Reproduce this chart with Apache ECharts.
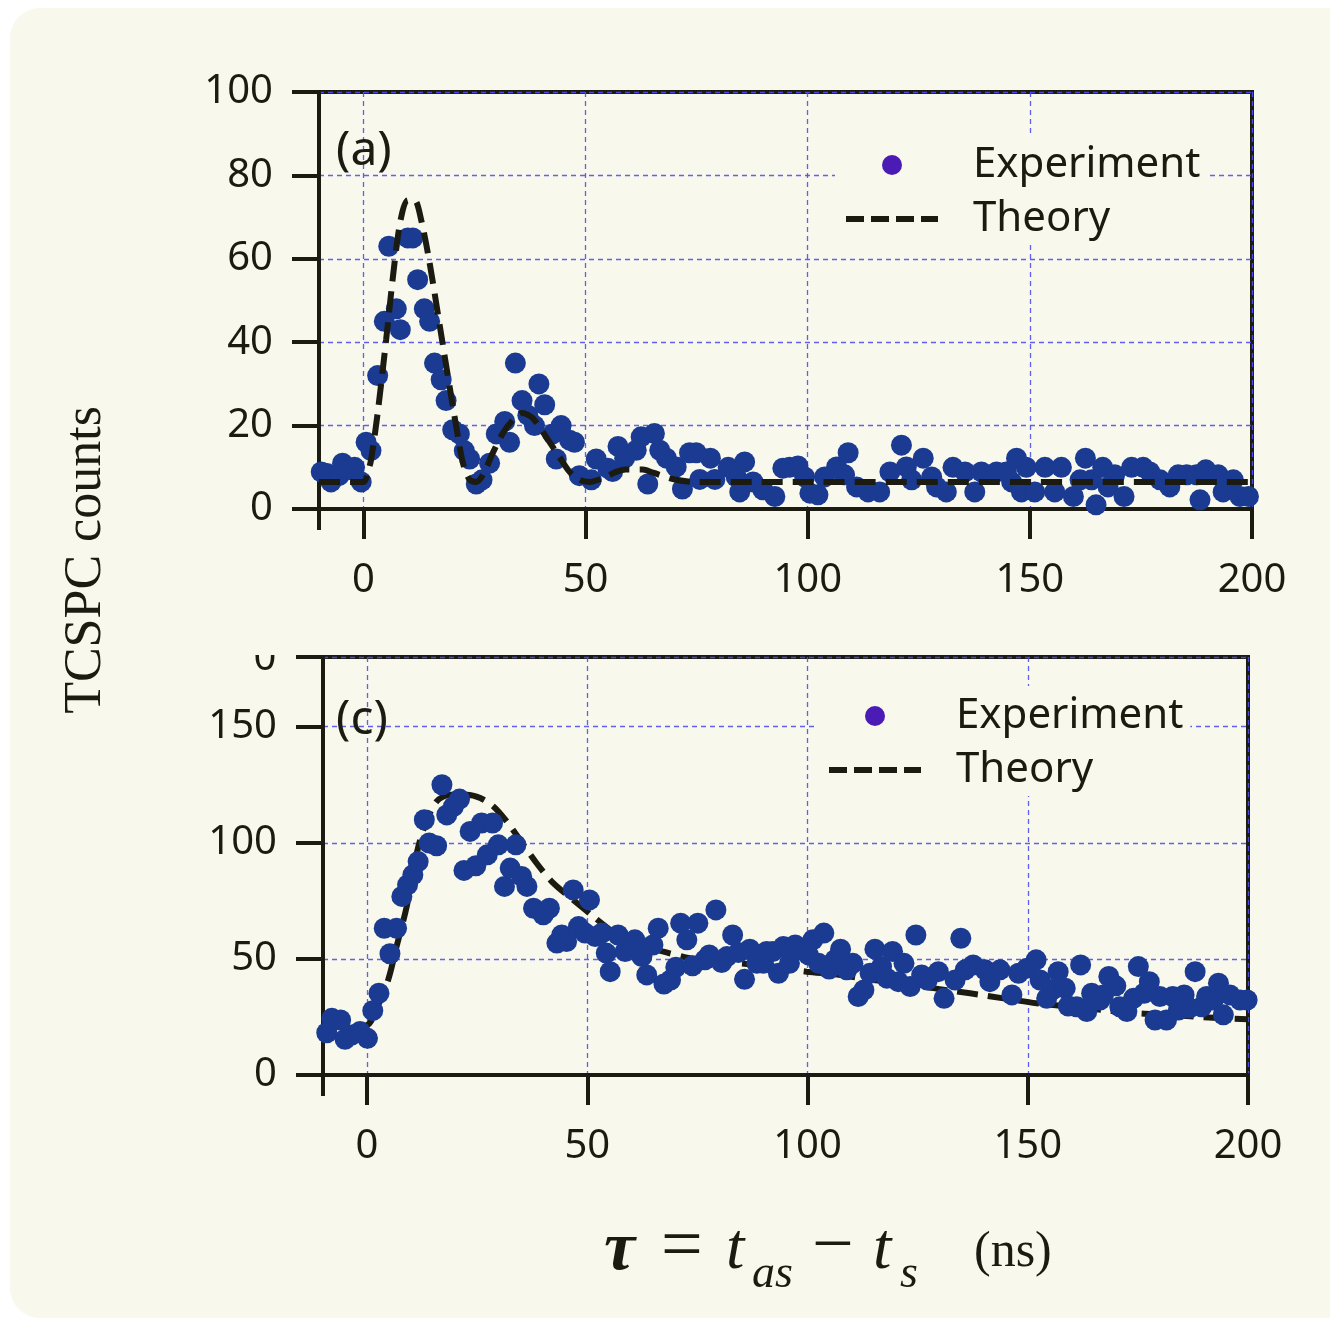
<!DOCTYPE html>
<html>
<head>
<meta charset="utf-8">
<script src="https://cdn.jsdelivr.net/npm/echarts@6/dist/echarts.min.js"></script>
<style>
  html, body { margin: 0; padding: 0; background: #ffffff; }
  #chart { width: 1330px; height: 1323px; }
</style>
</head>
<body>
<div id="chart"></div>
<script>
// panel (a): experiment points (ns, counts)
const aExpX = [-9.5, -8.2, -7.3, -5.5, -4.7, -3.2, -2.0, -0.5, 0.6, 1.7, 3.2, 4.7, 5.7, 7.4, 8.3, 10.0, 11.1, 12.2, 13.7, 14.9,
  16.0, 17.5, 18.6, 20.1, 21.6, 22.7, 23.9, 25.4, 26.7, 28.4, 29.9, 31.8, 32.9, 34.2, 35.7, 37.0, 38.5, 39.5, 40.8, 42.6,
  43.4, 44.5, 46.4, 47.5, 48.6, 51.3, 52.4, 55.0, 56.1, 57.3, 58.8, 61.4, 62.5, 64.0, 65.5, 66.7, 68.2, 70.4, 71.8, 73.4,
  74.9, 75.7, 78.1, 79.1, 82.1, 83.9, 84.7, 85.8, 87.7, 89.9, 92.6, 94.4, 95.9, 97.8, 99.3, 100.5, 102.3, 103.8, 106.5, 108.3,
  109.1, 111.0, 113.6, 116.2, 118.5, 121.1, 122.2, 123.4, 126.0, 127.9, 129.0, 131.2, 132.7, 135.4, 137.6, 139.1, 142.5, 144.7, 145.9, 147.0,
  148.1, 149.2, 151.1, 153.4, 155.6, 157.1, 159.8, 161.3, 162.5, 163.9, 164.9, 166.4, 167.6, 169.1, 171.2, 172.9, 175.5, 177.0, 179.3, 181.5,
  183.4, 185.3, 187.5, 188.3, 189.6, 192.4, 193.5, 195.8, 197.3, 199.2];
const aExpY = [8.9, 8.5, 6.5, 8, 11, 9.5, 10, 6.5, 16, 14, 32, 45, 63, 48, 43, 65, 65, 55, 48, 45,
  35, 31, 26, 19, 18, 14, 12, 6, 7, 11, 18, 21, 16, 35, 26, 22.5, 20, 30, 25, 18,
  12, 20, 16.5, 16, 8, 7, 12, 9.8, 9, 15, 12.2, 14.1, 17.3, 6, 18.1, 14.1, 12.2, 10.1, 4.8, 13.5,
  13.5, 7.1, 12.2, 7.1, 10, 7.7, 4.1, 11.3, 6.5, 4.6, 3, 9.8, 10, 10.3, 7.7, 3.8, 3.4, 7.7, 10.1, 8.2,
  13.5, 5.3, 4.1, 4.1, 8.9, 15.3, 10.1, 7, 12.2, 7.7, 5.3, 4.1, 10, 8.9, 4.1, 8.9, 8.9, 8.9, 6.5, 12.2,
  4.1, 10, 4.1, 10, 4.1, 10, 3, 7, 12.2, 7, 1, 10, 5.3, 8.2, 3, 10, 10, 8.9, 7, 5.3,
  8.2, 8.2, 8.2, 2.2, 9.4, 8.2, 4.1, 7, 3, 3];
// panel (a): theory curve
const aThX = [-10, 0, 1, 1.7, 3.2, 5.1, 7.0, 8.5, 10, 11.5, 13, 14.9, 17.1, 19.4, 20.9, 22.4, 23.9, 25.4, 26.9, 29.1,
  31.4, 33.6, 35.7, 38.1, 41.1, 44.1, 46.4, 48.6, 50.9, 53.9, 56.9, 59, 62.9, 65.2, 70.4, 75, 200];
const aThY = [6.5, 6.5, 9, 11.7, 23, 40.5, 59, 70, 74, 74, 69.3, 59, 44.5, 29.3, 19.7, 11, 7, 6.5, 8.2, 13.4,
  18.2, 21.3, 23, 21.8, 17.3, 12.5, 8.9, 7, 6.5, 7.4, 8.9, 9.5, 9.5, 8.7, 7, 6.5, 6.5];

// panel (c): experiment points
const cExpX = [-9.15, -8.0, -6.0, -5.0, -3.5, -1.6, 0.1, 1.3, 2.7, 3.9, 5.2, 6.7, 7.9, 9.2, 10.4, 11.6, 13.0, 14.1, 15.8, 17.0,
  18.1, 19.6, 21.0, 22.0, 23.4, 24.7, 26.0, 27.3, 28.5, 29.8, 31.2, 32.5, 33.8, 35.1, 36.3, 37.8, 40.0, 41.4, 43.1, 44.2,
  45.3, 46.8, 48.0, 49.5, 50.5, 51.8, 53.3, 54.3, 55.2, 57.0, 58.6, 60.8, 62.4, 63.5, 64.9, 66.1, 67.4, 68.9, 70.1, 71.2,
  72.6, 73.9, 75.1, 76.7, 77.7, 79.2, 80.5, 81.7, 83.0, 84.3, 85.7, 86.9, 88.5, 90.0, 90.7, 92.1, 93.4, 94.5, 95.9, 97.2,
  98.7, 100.2, 101.2, 102.5, 103.7, 104.9, 106.2, 107.5, 108.9, 110.3, 111.5, 112.8, 114.2, 115.3, 116.8, 118.0, 119.3, 120.6, 121.9, 123.3,
  124.6, 125.9, 127.2, 129.7, 131.0, 133.5, 134.8, 135.8, 137.6, 140.3, 141.4, 143.7, 146.4, 147.9, 149.8, 151.9, 152.8, 154.3, 155.8, 156.9,
  158.5, 159.2, 161.1, 162.0, 163.4, 164.5, 166.4, 167.2, 168.4, 170.0, 170.9, 172.5, 174.0, 175.1, 176.4, 177.6, 178.9, 180.0, 181.5, 182.9,
  184.2, 185.5, 186.7, 188.0, 189.5, 190.6, 192.1, 193.3, 194.4, 195.9, 198.2, 199.8];
const cExpY = [18.2, 24.4, 23.7, 15.4, 17.2, 18.7, 15.8, 27.7, 35.2, 63.2, 52.2, 63.2, 76.9, 81.9, 86.2, 91.9, 109.9, 99.9, 98.7, 125,
  112, 115.6, 118.8, 88.1, 104.9, 90.1, 108.5, 94.8, 108.5, 99.1, 81.2, 89.1, 99.1, 85.5, 81.2, 71.8, 69.0, 71.8, 56.8, 60.3,
  57.5, 79.7, 63.9, 61.1, 75.4, 59.6, 61.1, 52.5, 44.5, 60.3, 53.2, 58.2, 51, 43.1, 56, 63.2, 39.2, 40.9, 46.4, 65.4,
  58.2, 47, 65.4, 49.6, 51.7, 71.1, 48.4, 51, 60.3, 52.7, 41.2, 54.2, 48.1, 48.1, 53.2, 53.2, 43.8, 55.3, 48.1, 56,
  53.9, 51.7, 58.2, 48.1, 61.1, 45.6, 49.6, 54.2, 45.3, 48.1, 33.8, 36.6, 43.8, 54.2, 46.7, 41.7, 53.2, 40.2, 48.1, 38.1,
  60.3, 43.1, 40.9, 44.5, 33, 40.9, 58.9, 45.3, 47.4, 45.3, 40.2, 45.3, 34.5, 43.8, 46, 49.6, 40.9, 33, 36.9, 44.5,
  37.4, 29.7, 29.4, 47.4, 27.3, 35.2, 32.3, 34.5, 42.4, 38.4, 29.4, 27.3, 33, 46.7, 35.2, 40.2, 23.7, 33.8, 23.7, 33.8,
  28, 34.5, 28.8, 44.5, 29.4, 33.8, 32.3, 39.5, 25.9, 34.5, 32.3, 32.3];
// panel (c): theory curve
const cThX = [-10, -5, 0, 2.2, 4.8, 6.7, 9.0, 11.3, 13.2, 15.8, 18.8, 22.6, 25.7, 28.7, 31.7, 34.7, 38.5, 42.3, 46.8, 51.4,
  55.2, 59.7, 67.3, 73.3, 80.9, 88.5, 93.8, 99.8, 107.4, 114.9, 122.5, 128.6, 136.9, 144.5, 152.0, 159.6, 167.2, 174.7, 182.3, 189.9, 200];
const cThY = [20.5, 20.8, 21.5, 28.7, 41, 55.3, 72.5, 95.6, 107.8, 117.8, 120.7, 120.7, 119.3, 115.6, 109.2, 101.3, 91.2, 82.6, 75.4, 68.2,
  62.5, 56.8, 53.1, 50.3, 48.8, 47.4, 46, 44.5, 43.1, 40.9, 39.5, 37.4, 35.2, 33, 30.9, 29.4, 28, 26.6, 25.9, 24.9, 24];

const xTicks = [0, 50, 100, 150, 200];
const cYLabels = [0, 50, 100, 150];
const cYTicks = [0, 50, 100, 150, 180];

const BG = '#f8f8ec';
const INK = '#1b1b12';
const GRIDC = '#4f4ff4';
const DOT = '#1a3b91';
const FONT = 'Noto Sans';

const zip = (xs, ys) => xs.map((x, i) => [x, ys[i]]);
const gridLine = { show: true, lineStyle: { color: GRIDC, width: 1.3, type: [5, 4], opacity: 0.9 } };

function mainX(gridIndex) {
  return {
    type: 'value', gridIndex, position: 'bottom', min: -10, max: 200, splitNumber: 4,
    axisLine: { show: true, onZero: false, lineStyle: { color: INK, width: 4 } },
    axisTick: { show: true, length: 30, customValues: xTicks, lineStyle: { color: INK, width: 4 } },
    axisLabel: { customValues: xTicks, color: INK, fontFamily: FONT, fontSize: 40, margin: 52 },
    splitLine: gridLine
  };
}
// short extra tick at -10 under the left frame edge
function stubX(gridIndex) {
  return {
    type: 'value', gridIndex, position: 'bottom', min: -10, max: 200,
    axisLine: { show: false, onZero: false },
    axisTick: { show: true, length: 21, customValues: [-10], lineStyle: { color: INK, width: 4 } },
    axisLabel: { show: false },
    splitLine: { show: false }
  };
}
function legendAt(left, top) {
  return {
    left, top, orient: 'vertical', selectedMode: false,
    backgroundColor: BG, padding: [8, 7, 4, 8], itemWidth: 92, itemHeight: 20, itemGap: 10,
    textStyle: { color: INK, fontFamily: FONT, fontSize: 42, lineHeight: 44, padding: [0, 0, 0, 30] },
    data: [
      { name: 'Experiment', itemStyle: { color: '#4a1cb5' } },
      { name: 'Theory', itemStyle: { opacity: 0 }, lineStyle: { type: [18, 7], width: 6, color: INK } }
    ]
  };
}

const chart = echarts.init(document.getElementById('chart'));
chart.setOption({
  backgroundColor: '#ffffff',
  animation: false,
  grid: [
    { left: 319, top: 92, width: 933, height: 417, show: true, borderColor: INK, borderWidth: 4, backgroundColor: 'transparent' },
    { left: 323, top: 657, width: 925, height: 418, show: true, borderColor: INK, borderWidth: 4, backgroundColor: 'transparent' }
  ],
  xAxis: [mainX(0), stubX(0), mainX(1), stubX(1)],
  yAxis: [
    {
      type: 'value', gridIndex: 0, min: 0, max: 100, interval: 20,
      axisLine: { show: true, onZero: false, lineStyle: { color: INK, width: 4 } },
      axisTick: { show: true, length: 27, lineStyle: { color: INK, width: 4 } },
      axisLabel: { color: INK, fontFamily: FONT, fontSize: 40, margin: 46 },
      splitLine: gridLine
    },
    {
      type: 'value', gridIndex: 1, min: 0, max: 180, splitNumber: 4,
      axisLine: { show: true, onZero: false, lineStyle: { color: INK, width: 4 } },
      axisTick: { show: true, length: 27, customValues: cYTicks, lineStyle: { color: INK, width: 4 } },
      axisLabel: { customValues: cYLabels, color: INK, fontFamily: FONT, fontSize: 40, margin: 46 },
      splitLine: gridLine
    }
  ],
  legend: [legendAt(835, 135), legendAt(818, 686)],
  graphic: [
    { type: 'rect', z: -100, shape: { x: 10, y: 8, width: 1360, height: 1310, r: 30 }, style: { fill: BG } },
    { type: 'text', z: 5, style: { text: '(a)', x: 336, y: 151, font: '48px "Noto Sans"', fill: INK, verticalAlign: 'middle' } },
    { type: 'text', z: 5, style: { text: '(c)', x: 336, y: 720, font: '48px "Noto Sans"', fill: INK, verticalAlign: 'middle' } },
    { type: 'text', z: 5, style: { text: '0', x: 265, y: 659, font: '40px "Noto Sans"', fill: INK, align: 'center', verticalAlign: 'middle' } },
    { type: 'rect', z: 6, shape: { x: 240, y: 620, width: 50, height: 35 }, style: { fill: BG } },
    { type: 'text', z: 5, x: 86, y: 560, rotation: Math.PI / 2,
      style: { text: 'TCSPC counts', x: 0, y: 0, font: '52px "Liberation Serif"', fill: INK, align: 'center', verticalAlign: 'middle' } },
    { type: 'text', z: 5, style: { text: 'τ', x: 604, y: 1251, font: 'italic bold 70px "Liberation Serif"', fill: INK, verticalAlign: 'middle' } },
    { type: 'text', z: 5, style: { text: '=', x: 661, y: 1249, font: '74px "Liberation Serif"', fill: INK, verticalAlign: 'middle' } },
    { type: 'text', z: 5, style: { text: 't', x: 726, y: 1251, font: 'italic 66px "Liberation Serif"', fill: INK, verticalAlign: 'middle' } },
    { type: 'text', z: 5, style: { text: 'as', x: 752, y: 1275, font: 'italic 46px "Liberation Serif"', fill: INK, verticalAlign: 'middle' } },
    { type: 'text', z: 5, style: { text: '−', x: 812, y: 1249, font: '74px "Liberation Serif"', fill: INK, verticalAlign: 'middle' } },
    { type: 'text', z: 5, style: { text: 't', x: 873, y: 1251, font: 'italic 66px "Liberation Serif"', fill: INK, verticalAlign: 'middle' } },
    { type: 'text', z: 5, style: { text: 's', x: 900, y: 1275, font: 'italic 46px "Liberation Serif"', fill: INK, verticalAlign: 'middle' } },
    { type: 'text', z: 5, style: { text: '(ns)', x: 974, y: 1253, font: '50px "Liberation Serif"', fill: INK, verticalAlign: 'middle' } }
  ],
  series: [
    {
      name: 'Experiment', type: 'scatter', xAxisIndex: 0, yAxisIndex: 0, z: 2,
      symbolSize: 21, itemStyle: { color: DOT, opacity: 1 },
      data: zip(aExpX, aExpY)
    },
    {
      name: 'Theory', type: 'line', xAxisIndex: 0, yAxisIndex: 0, z: 3,
      smooth: 0.3, symbol: 'none',
      lineStyle: { color: INK, width: 6, type: [21, 10] }, itemStyle: { color: INK },
      data: zip(aThX, aThY)
    },
    {
      name: 'Experiment', type: 'scatter', xAxisIndex: 2, yAxisIndex: 1, z: 3,
      symbolSize: 21, itemStyle: { color: DOT, opacity: 1 },
      data: zip(cExpX, cExpY)
    },
    {
      name: 'Theory', type: 'line', xAxisIndex: 2, yAxisIndex: 1, z: 2,
      smooth: 0.3, symbol: 'none',
      lineStyle: { color: INK, width: 6, type: [21, 10] }, itemStyle: { color: INK },
      data: zip(cThX, cThY)
    }
  ]
});
</script>
</body>
</html>
